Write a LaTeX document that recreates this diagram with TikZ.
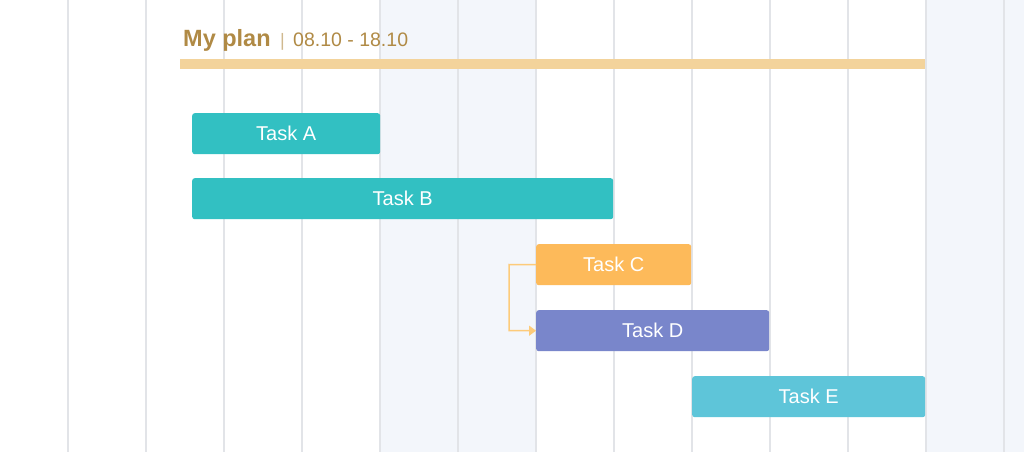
\documentclass[tikz,border=0pt]{standalone}
\usepackage{fontspec}
\setmainfont{Liberation Sans}
\usetikzlibrary{arrows.meta}

\definecolor{gridline}{HTML}{E2E4E8}
\definecolor{bandcol}{HTML}{F3F6FB}
\definecolor{titlegold}{HTML}{B08A45}
\definecolor{titlebar}{HTML}{F3D39B}
\definecolor{tealtask}{HTML}{32C0C2}
\definecolor{orangetask}{HTML}{FDBA5A}
\definecolor{purpletask}{HTML}{7986CB}
\definecolor{skytask}{HTML}{5EC5D9}
\definecolor{deparrow}{HTML}{FDCB7A}

\tikzset{
  taskbar/.style={anchor=north west, minimum height=41pt, inner sep=0pt,
    rounded corners=2.5pt, text=white, font=\fontsize{20}{20}\selectfont},
  dep/.style={draw=deparrow, line width=1.5pt, -{Triangle[length=7pt,width=10pt]}}
}

\begin{document}
\begin{tikzpicture}[x=1pt, y=-1pt]

\useasboundingbox[fill=white] (0,0) rectangle (1024,452);

% shaded columns
\fill[bandcol] (379.5,0) rectangle (535.5,452);
\fill[bandcol] (925.5,0) rectangle (1024,452);

% grid
\foreach \k in {0,...,12}
  \draw[gridline, line width=2pt] (67.5+78*\k,0) -- (67.5+78*\k,452);

% header
\node[anchor=base west, inner sep=0pt, text=titlegold,
  font=\bfseries\fontsize{23.5}{23.5}\selectfont] (title) at (183,47) {My plan};
\node[anchor=base west, inner sep=0pt, text=titlegold!60,
  font=\fontsize{18}{18}\selectfont] (sep) at (280,47) {|};
\node[anchor=base west, inner sep=0pt, text=titlegold,
  font=\fontsize{19.5}{19.5}\selectfont] (dates) at (293,47) {08.10 - 18.10};
\fill[titlebar] (180,58.5) rectangle (925,68.5);

% tasks
\node[taskbar, fill=tealtask, minimum width=188pt] (taskA) at (192,113) {Task A};
\node[taskbar, fill=tealtask, minimum width=421pt] (taskB) at (192,178) {Task B};
\node[taskbar, fill=orangetask, minimum width=155pt] (taskC) at (536,244) {Task C};
\node[taskbar, fill=purpletask, minimum width=233pt] (taskD) at (536,310) {Task D};
\node[taskbar, fill=skytask, minimum width=233pt] (taskE) at (692,376) {Task E};

% dependency
\coordinate (bend) at (509,264.5);
\draw[dep] (taskC.west) -- (bend) |- (taskD.west);

\end{tikzpicture}
\end{document}
